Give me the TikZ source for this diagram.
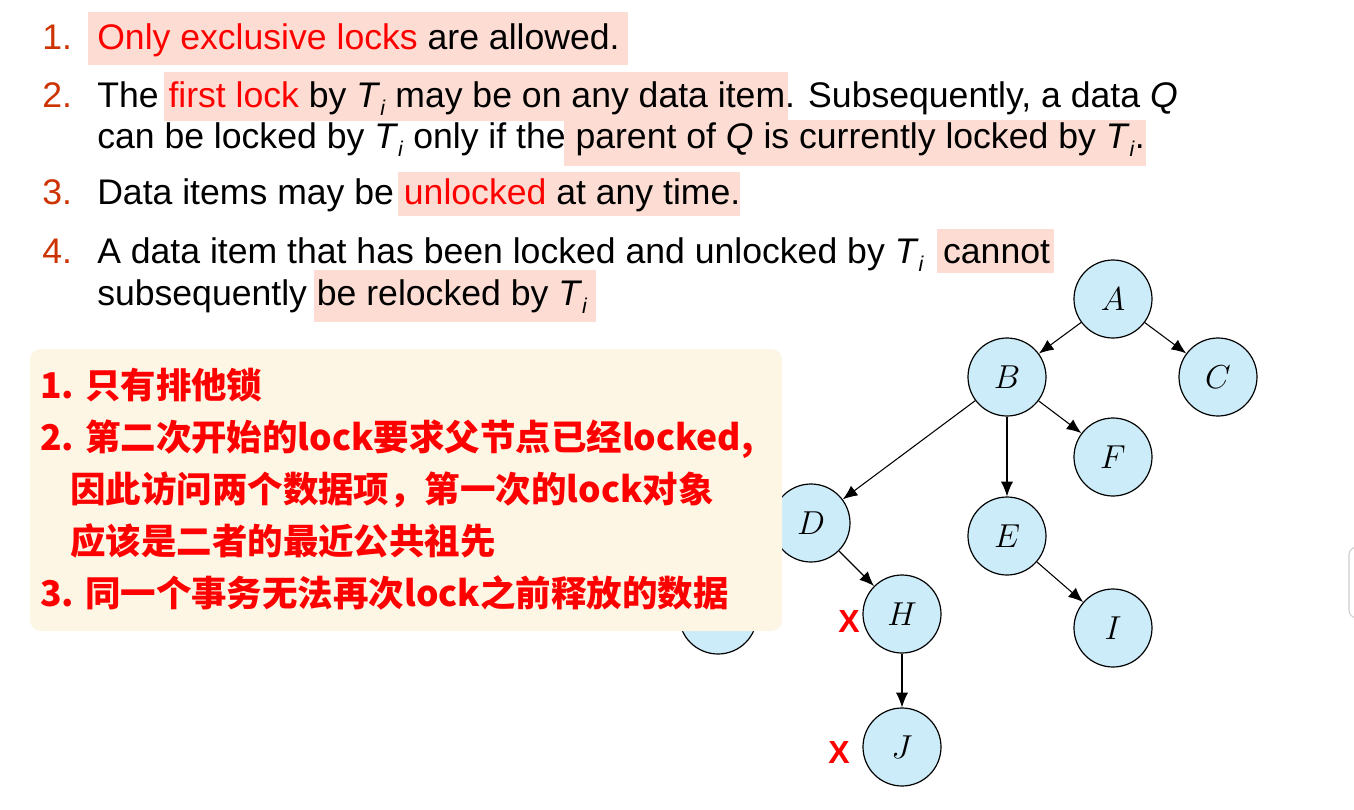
\documentclass[tikz,border=0pt]{standalone}
\usepackage{fontspec}
\setmainfont{Liberation Sans}
\newfontfamily\cjk{Noto Sans CJK SC}
\usetikzlibrary{arrows.meta}
\definecolor{hlpink}{RGB}{253,221,211}
\definecolor{numred}{RGB}{204,51,0}
\definecolor{itemblue}{RGB}{204,236,249}
\definecolor{notebg}{RGB}{253,246,229}
\newcommand{\Ti}{\textit{T}\raisebox{-0.25em}{\fontsize{16}{16}\selectfont\textit{i}}}

\begin{document}
\begin{tikzpicture}[x=0.75pt,y=-0.75pt,
    txt/.style={anchor=base west,inner sep=0pt,font=\fontsize{26.7}{32}\selectfont},
    num/.style={txt,text=numred},
    hl/.style={fill=hlpink},
    item/.style={circle,draw,fill=itemblue,line width=0.9pt,minimum size=58.5pt,inner sep=0pt,font=\fontsize{24}{24}\selectfont},
    note/.style={anchor=base west,inner sep=0pt,text=red,font=\cjk\bfseries\fontsize{26.6}{32}\selectfont},
    cross/.style={text=red,font=\bfseries\fontsize{24}{24}\selectfont},
    edge/.style={-{Latex[length=11pt,width=9pt]},line width=0.8pt}]
      \useasboundingbox (0,0) rectangle (1354,810);

      \fill[hl] (88,12) rectangle (628,65);
      \fill[hl] (164,72) rectangle (788,121);
      \fill[hl] (564,120) rectangle (1146,166);
      \fill[hl] (398,172) rectangle (740,216);
      \fill[hl] (937,229) rectangle (1054,273);
      \fill[hl] (314,270) rectangle (596,322);

      \node[num] (n1) at (42,49) {1.};
      \node[txt] (t1) at (97,49) {\textcolor{red}{Only exclusive locks} are allowed.};
      \node[num] (n2) at (42,107) {2.};
      \node[txt] (t2) at (97,107) {The \textcolor{red}{first lock} by \Ti\ may be on any data item. Subsequently, a data \textit{Q}};
      \node[txt] (t2b) at (97,148) {can be locked by \Ti\ only if the parent of \textit{Q} is currently locked by \Ti.};
      \node[num] (n3) at (42,204) {3.};
      \node[txt] (t3) at (97,204) {Data items may be \textcolor{red}{unlocked} at any time.};
      \node[num] (n4) at (42,263) {4.};
      \node[txt] (t4) at (97,263) {A data item that has been locked and unlocked by \Ti\hspace{7pt} cannot};
      \node[txt] (t4b) at (97,305) {subsequently be relocked by \Ti};

      \node[item] (g) at (718,615) {};
      \node[item] (a) at (1113,299) {$A$};
      \node[item] (b) at (1007,377) {$B$};
      \node[item] (c) at (1218,377) {$C$};
      \node[item] (f) at (1113,457) {$F$};
      \node[item] (d) at (811,523) {$D$};
      \node[item] (e) at (1007,536) {$E$};
      \node[item] (h) at (902,614) {$H$};
      \node[item] (i) at (1113,628) {$I$};
      \node[item] (j) at (902,747) {$J$};

      \draw[edge] (a) -- (b);
      \draw[edge] (a) -- (c);
      \draw[edge] (b) -- (d);
      \draw[edge] (b) -- (e);
      \draw[edge] (b) -- (f);
      \draw[edge] (d) -- (h);
      \draw[edge] (e) -- (i);
      \draw[edge] (h) -- (j);

      \node[cross] (x1) at (849,621) {X};
      \node[cross] (x2) at (839,752) {X};

      \fill[notebg,rounded corners=8pt] (30,349) rectangle (782,631);
      \node[note] (m1) at (40,398) {1. 只有排他锁};
      \node[note] (m2) at (40,450) {2. 第二次开始的lock要求父节点已经locked,};
      \node[note] (m3) at (70,502) {因此访问两个数据项，第一次的lock对象};
      \node[note] (m4) at (70,554) {应该是二者的最近公共祖先};
      \node[note] (m5) at (40,606) {3. 同一个事务无法再次lock之前释放的数据};

      \draw[black!20,rounded corners=6pt,line width=0.8pt] (1349,547) rectangle (1380,618);
    \end{tikzpicture}
\end{document}
